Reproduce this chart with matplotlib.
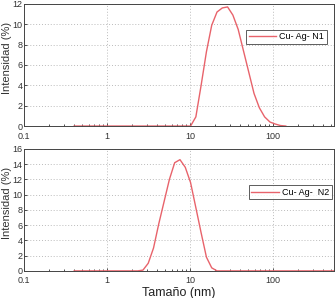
import matplotlib.pyplot as plt
from matplotlib.ticker import FixedLocator, LogLocator, NullFormatter

plt.rcParams["font.family"] = ["Liberation Sans", "DejaVu Sans"]

# Tamaños (nm) de los bins del equipo DLS
size_n1 = [0.4, 0.4632, 0.5365, 0.6213, 0.7195, 0.8332, 0.9649, 1.117, 1.294,
           1.499, 1.736, 2.010, 2.328, 2.696, 3.122, 3.615, 4.187, 4.849, 5.615,
           6.503, 7.531, 8.721, 10.10, 11.70, 13.54, 15.69, 18.17, 21.04, 24.36,
           28.21, 32.67, 37.84, 43.82, 50.75, 58.77, 68.06, 78.82, 91.28, 105.7,
           122.4, 141.8]
int_n1 = [0, 0, 0, 0, 0, 0, 0, 0, 0,
          0, 0, 0, 0, 0, 0, 0, 0, 0, 0,
          0, 0, 0, 0, 0.9, 4.0, 7.3, 9.9, 11.2, 11.6,
          11.7, 10.9, 9.5, 7.4, 5.3, 3.2, 1.8, 0.9, 0.4, 0.2,
          0.05, 0]

size_n2 = [0.4, 0.4632, 0.5365, 0.6213, 0.7195, 0.8332, 0.9649, 1.117, 1.294,
           1.499, 1.736, 2.010, 2.328, 2.696, 3.122, 3.615, 4.187, 4.849, 5.615,
           6.503, 7.531, 8.721, 10.10, 11.70, 13.54, 15.69, 18.17, 21.04, 24.36,
           28.21, 32.67, 37.84, 43.82, 50.75, 58.77, 68.06, 78.82, 91.28, 105.7,
           122.4, 141.8, 164.2, 190.1, 220.2, 255.0, 295.3, 342.0, 396.1, 458.7,
           531.2, 615.1]
int_n2 = [0, 0, 0, 0, 0, 0, 0, 0, 0,
          0, 0, 0, 0, 0.1, 1.0, 3.0, 6.2, 9.1, 12.0,
          14.2, 14.6, 13.6, 11.6, 8.3, 5.0, 1.8, 0.4, 0, 0,
          0, 0, 0, 0, 0, 0, 0, 0, 0, 0,
          0, 0, 0, 0, 0, 0, 0, 0, 0, 0,
          0, 0]

RED = "#e8636b"

fig = plt.figure(figsize=(3.36, 2.98), dpi=100)
ax1 = fig.add_axes([0.072, 0.577, 0.922, 0.410])
ax2 = fig.add_axes([0.072, 0.091, 0.922, 0.409])


def style(ax, ymax, anchor):
    ax.set_xscale("log")
    ax.set_xlim(0.1, 540)
    ax.set_ylim(0, ymax)
    ax.yaxis.set_major_locator(FixedLocator(range(0, ymax + 1, 2)))
    ax.xaxis.set_major_locator(FixedLocator([0.1, 1, 10, 100]))
    ax.xaxis.set_minor_locator(LogLocator(subs=range(2, 10)))
    ax.xaxis.set_minor_formatter(NullFormatter())
    ax.set_xticklabels(["0.1", "1", "10", "100"])
    ax.grid(True, which="major", color="#bbbbbb", linestyle=(0, (1, 2)), linewidth=0.7)
    ax.tick_params(which="both", direction="in", labelsize=6.5, colors="#333333",
                   length=2.5, width=0.6, pad=1.0)
    ax.tick_params(axis="x", which="major", pad=4)
    ax.tick_params(which="minor", length=1.5)
    for s in ax.spines.values():
        s.set_color("#444444")
        s.set_linewidth(0.7)
    ax.set_ylabel("Intensidad (%)", fontsize=8, color="#333333")
    ax.yaxis.set_label_coords(-0.039, 0.56)
    leg = ax.legend(loc="upper right", fontsize=6.5, frameon=True, fancybox=False,
                    handlelength=3.0, handletextpad=0.4, borderpad=0.3,
                    borderaxespad=0, bbox_to_anchor=anchor)
    leg.get_frame().set_edgecolor("#333333")
    leg.get_frame().set_linewidth(0.7)


ax1.plot(size_n1, int_n1, color=RED, linewidth=1.0, label="Cu- Ag- N1")
style(ax1, 12, (0.977, 0.79))

ax2.plot(size_n2, int_n2, color=RED, linewidth=1.0, label="Cu- Ag-  N2")
style(ax2, 16, (0.994, 0.705))
ax2.set_xlabel("Tamaño (nm)", fontsize=9, color="#222222", labelpad=1)

fig.savefig("out.png", dpi=100)
